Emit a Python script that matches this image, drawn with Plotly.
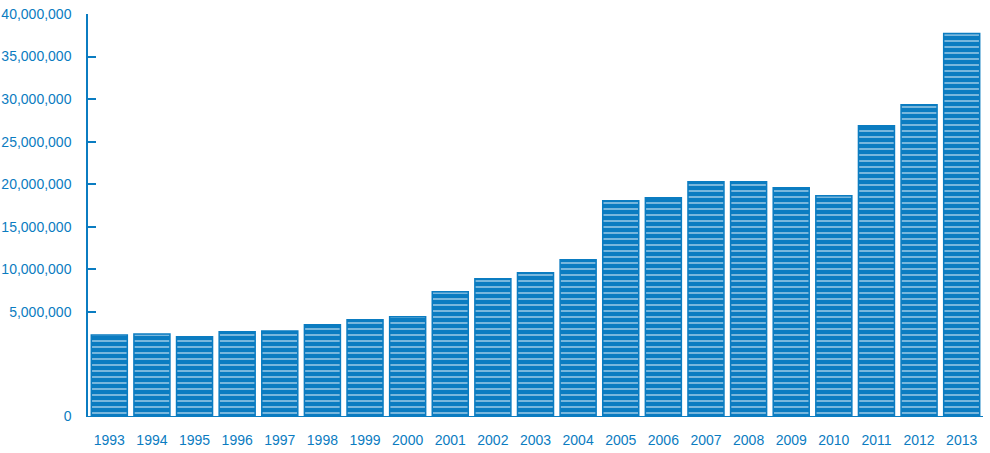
import plotly.graph_objects as go

years = ["1993", "1994", "1995", "1996", "1997", "1998", "1999", "2000", "2001", "2002", "2003",
         "2004", "2005", "2006", "2007", "2008", "2009", "2010", "2011", "2012", "2013"]
values = [2290000, 2410000, 2060000, 2650000, 2760000, 3470000, 4060000, 4410000, 7350000,
          8880000, 9590000, 11120000, 18060000, 18410000, 20290000, 20290000, 19590000,
          18650000, 26880000, 29350000, 37710000]

# bottom of the drawn axis (labelled "0" in the reference)
AXIS_MIN = -7240000
AXIS_MAX = 40000000
tick_vals = [AXIS_MIN, 5000000, 10000000, 15000000, 20000000, 25000000, 30000000, 35000000, 40000000]
tick_text = ["0", "5,000,000", "10,000,000", "15,000,000", "20,000,000", "25,000,000",
             "30,000,000", "35,000,000", "40,000,000"]

BLUE = "#0b7cc1"
FONT = "Liberation Sans"

fig = go.Figure()
fig.add_trace(go.Bar(
    x=years,
    y=[v - AXIS_MIN for v in values],
    base=AXIS_MIN,
    marker=dict(
        color=BLUE,
        line=dict(color=BLUE, width=1.5),
        pattern=dict(shape="-", size=6, solidity=0.15, fgcolor="white", bgcolor=BLUE,
                     fillmode="replace"),
    ),
    customdata=values,
    hovertemplate="%{x}: %{customdata:,}<extra></extra>",
))

fig.update_layout(
    width=990, height=453,
    margin=dict(l=88, r=7, t=14, b=37, autoexpand=False),
    paper_bgcolor="white", plot_bgcolor="white",
    bargap=0.155,
    showlegend=False,
    font=dict(family=FONT, color=BLUE, size=14),
)
fig.update_xaxes(
    automargin=False,
    showline=True, linecolor=BLUE, linewidth=1.2,
    showgrid=False, ticks="", ticklabelstandoff=11,
    tickfont=dict(family=FONT, size=14, color=BLUE),
)
fig.update_yaxes(
    automargin=False,
    range=[AXIS_MIN, AXIS_MAX],
    tickvals=tick_vals, ticktext=tick_text,
    showline=True, linecolor=BLUE, linewidth=1.5,
    showgrid=False, zeroline=False,
    ticks="inside", ticklen=8, tickwidth=2, tickcolor=BLUE,
    ticklabelstandoff=12,
    tickfont=dict(family=FONT, size=14, color=BLUE),
)

fig.write_html("out.html", config={"displayModeBar": False},
               post_script="document.body.style.margin='0px';")
